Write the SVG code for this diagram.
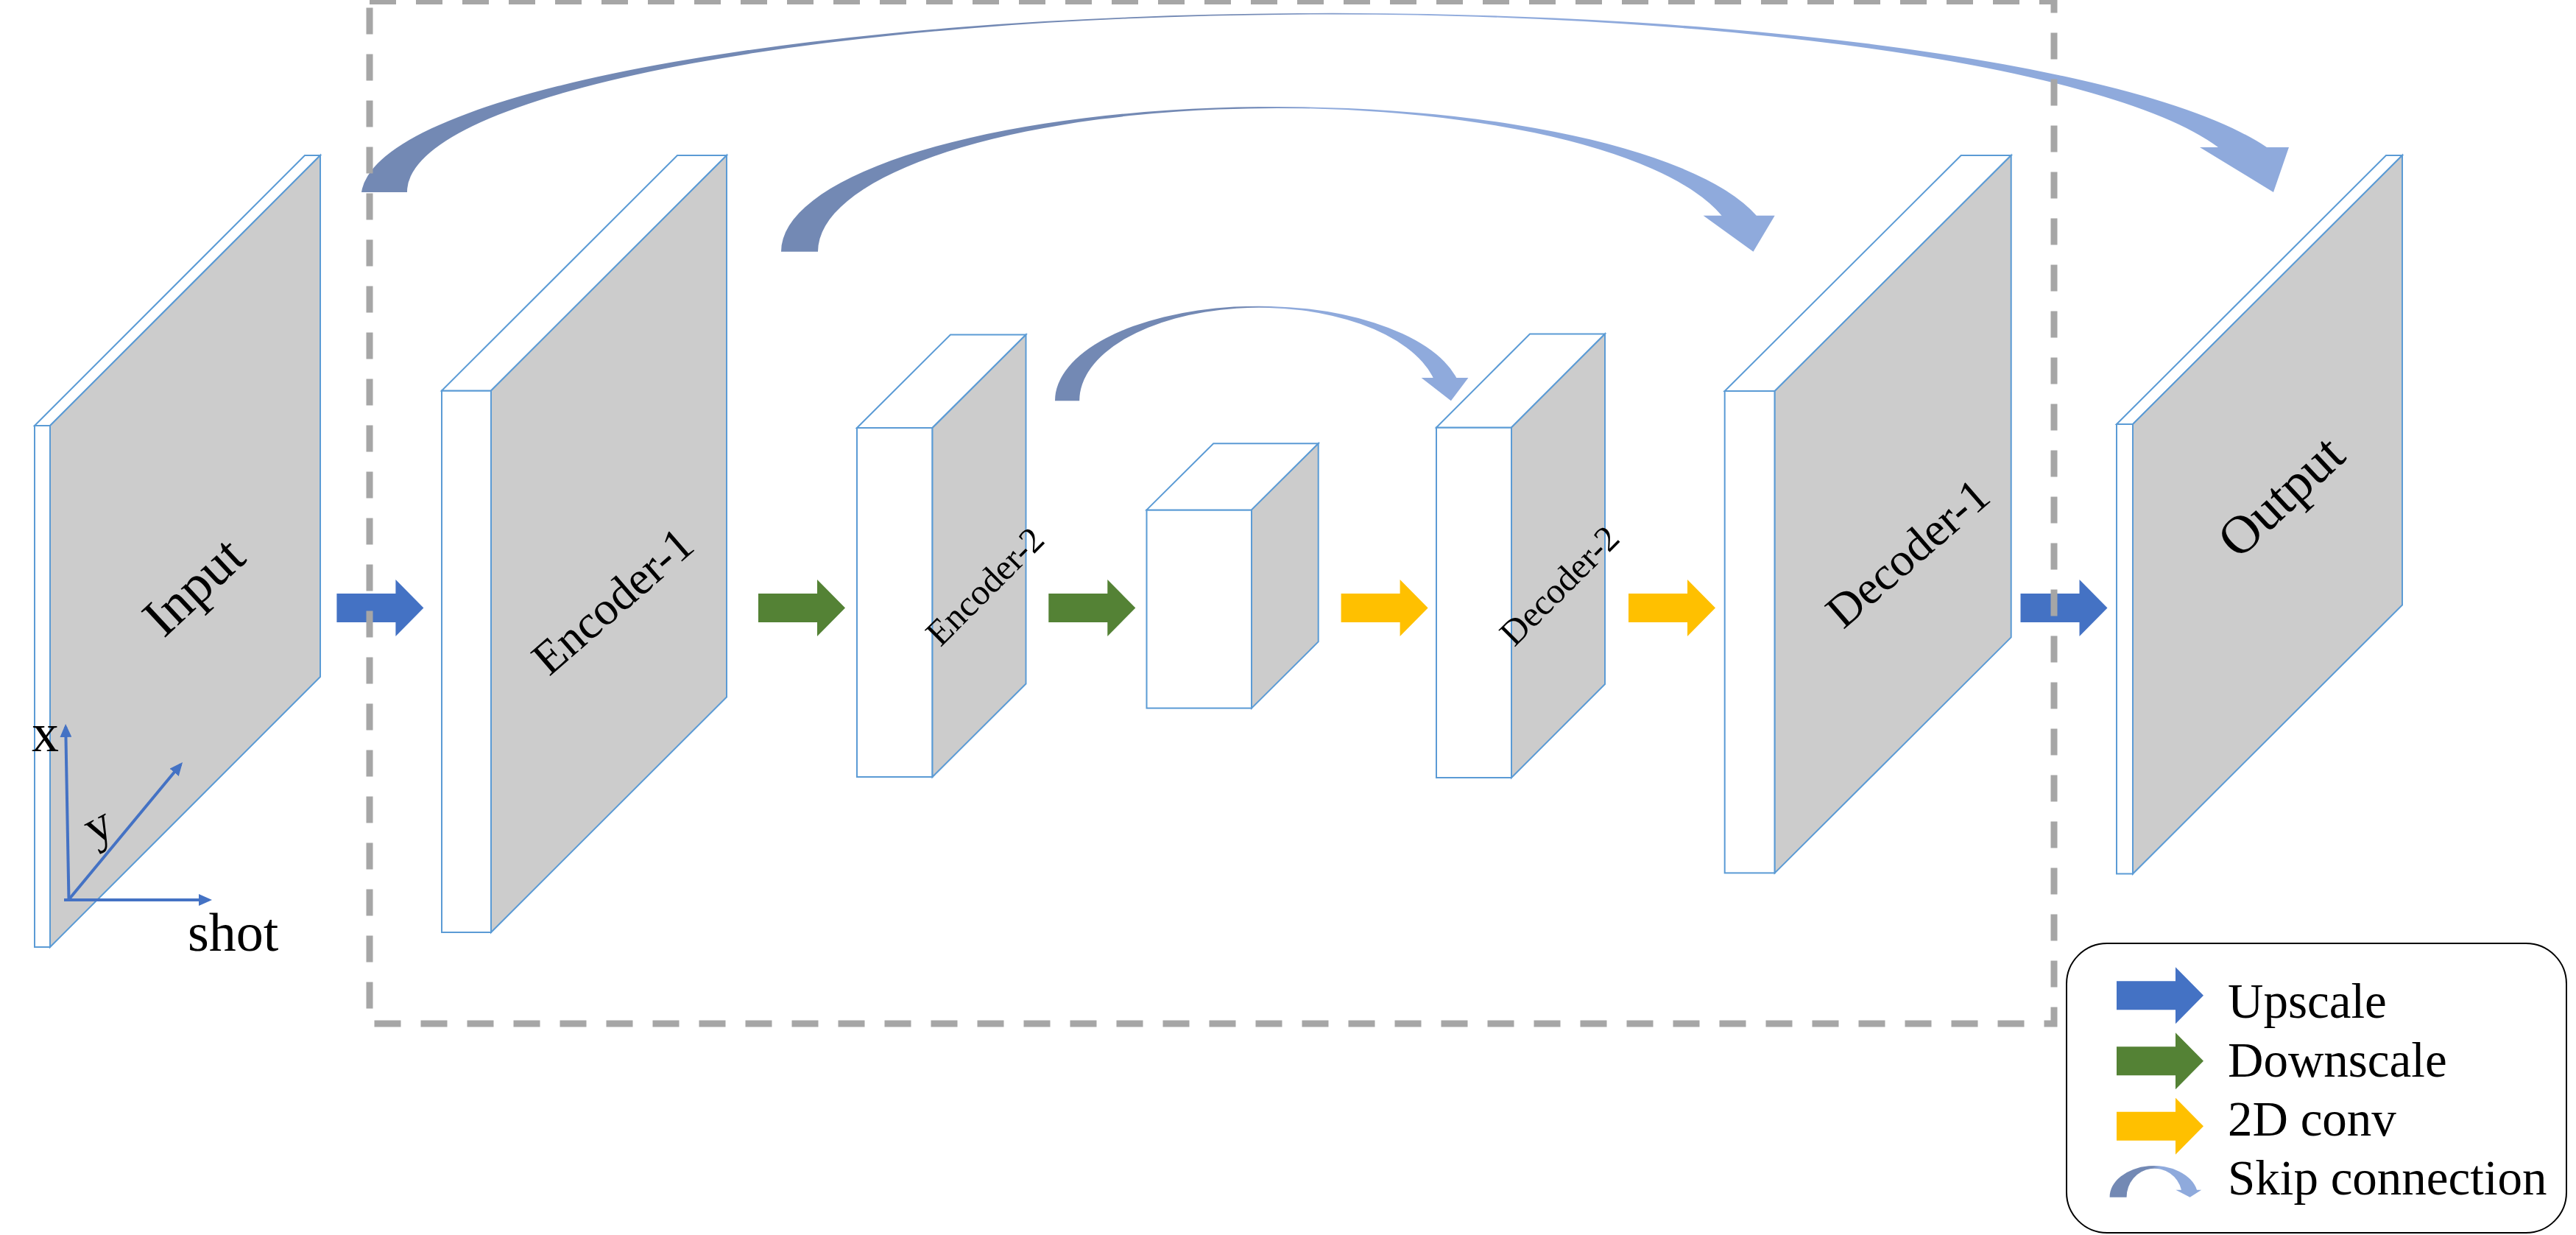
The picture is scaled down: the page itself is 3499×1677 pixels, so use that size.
<svg xmlns="http://www.w3.org/2000/svg" width="3499" height="1677" viewBox="0 0 3499 1677">
<style>
.face{fill:#FFFFFF;stroke:#5B9BD5;stroke-width:2;stroke-linejoin:miter}
.side{fill:#CCCCCC;stroke:#5B9BD5;stroke-width:2;stroke-linejoin:miter}
.lbl{font-family:"Liberation Serif","Times New Roman",serif;fill:#000000;text-anchor:middle;dominant-baseline:central}
.leg{font-family:"Liberation Serif","Times New Roman",serif;fill:#000000;font-size:67px}
.ax{stroke:#4472C4;stroke-width:4;fill:none}
.up{fill:#4472C4}
.down{fill:#548235}
.conv{fill:#FFC000}
.skip{fill:url(#skipg)}
</style>
<defs>
<linearGradient id="skipg" x1="0" y1="0" x2="1" y2="0">
<stop offset="0" stop-color="#7389B4"/>
<stop offset="0.46" stop-color="#7389B4"/>
<stop offset="0.54" stop-color="#8FAADC"/>
<stop offset="1" stop-color="#8FAADC"/>
</linearGradient>
<path id="blk" d="M0,-19.5 H80 V-38.5 L118,0 L80,38.5 V19.5 H0 Z"/>
<marker id="axh" viewBox="0 0 18 16" refX="14" refY="8" markerWidth="18" markerHeight="16" markerUnits="userSpaceOnUse" orient="auto">
<path d="M0,0 L18,8 L0,16 Z" fill="#4472C4"/>
</marker>
</defs>

<g id="connectors">
<use href="#blk" class="up" x="457.4" y="825.5"/>
<use href="#blk" class="down" x="1030" y="825.5"/>
<use href="#blk" class="down" x="1424.3" y="825.5"/>
<use href="#blk" class="conv" x="1821.6" y="825.5"/>
<use href="#blk" class="conv" x="2212" y="825.5"/>
<use href="#blk" class="up" x="2744.5" y="825.5"/>
<path class="skip" d="M491,261 A1319,250 0 0 1 3079,200 L3109,200 L3088,261 L2988,200 L3013,200 A1250,241 0 0 0 553,261 Z"/>
<path class="skip" d="M1061,341.7 A673,196.7 0 0 1 2385.8,292.7 L2410.7,292.7 L2381.5,341.7 L2313.6,292.7 L2338.6,292.7 A623.8,194.7 0 0 0 1111,341.7 Z"/>
<path class="skip" d="M1433,544.2 A276.8,128.6 0 0 1 1978.3,513 L1994.4,513 L1970.9,544.2 L1930.6,513 L1946.7,513 A244,126.2 0 0 0 1466.2,544.2 Z"/>
</g>

<g id="input">
<rect class="face" x="47" y="578" width="21" height="708"/>
<polygon class="face" points="47,578 414,211 435,211 68,578"/>
<polygon class="side" points="68,578 435,211 435,919 68,1286"/>
<text class="lbl" font-size="74" x="262.5" y="796" transform="rotate(-43 262.5 796)">Input</text>
<line class="ax" x1="93.5" y1="1222" x2="89.2" y2="987" marker-end="url(#axh)"/>
<line class="ax" x1="93" y1="1222" x2="245.5" y2="1038" marker-end="url(#axh)"/>
<line class="ax" x1="87" y1="1222" x2="284" y2="1222" marker-end="url(#axh)"/>
<text class="leg" style="font-size:74px" x="43" y="1020">x</text>
<text class="leg" style="font-size:68px" x="0" y="0" transform="translate(128 1148) rotate(-28)">y</text>
<text class="leg" style="font-size:74px" x="255" y="1291">shot</text>
</g>

<g id="encoder1">
<rect class="face" x="600" y="530.5" width="67" height="735.5"/>
<polygon class="face" points="600,530.5 920,211 987,211 667,530.5"/>
<polygon class="side" points="667,530.5 987,211 987,946.5 667,1266"/>
<text class="lbl" font-size="64" x="832" y="816" transform="rotate(-41 832 816)">Encoder-1</text>
</g>

<g id="encoder2">
<rect class="face" x="1164" y="581" width="102.5" height="474"/>
<polygon class="face" points="1164,581 1291,454.5 1393.5,454.5 1266.5,581"/>
<polygon class="side" points="1266.5,581 1393.5,454.5 1393.5,928.5 1266.5,1055"/>
<text class="lbl" font-size="49" x="1337.6" y="796" transform="rotate(-45 1337.6 796)">Encoder-2</text>
</g>

<g id="bottleneck">
<rect class="face" x="1557.5" y="692.4" width="142.5" height="269.2"/>
<polygon class="face" points="1557.5,692.4 1648.2,602.2 1790.7,602.2 1700,692.4"/>
<polygon class="side" points="1700,692.4 1790.7,602.2 1790.7,871.4 1700,961.6"/>
</g>

<g id="decoder2">
<rect class="face" x="1951" y="580.5" width="102" height="475.5"/>
<polygon class="face" points="1951,580.5 2078,453.5 2180,453.5 2053,580.5"/>
<polygon class="side" points="2053,580.5 2180,453.5 2180,929 2053,1056"/>
<text class="lbl" font-size="49" x="2118" y="795" transform="rotate(-45 2118 795)">Decoder-2</text>
</g>

<g id="decoder1">
<rect class="face" x="2342.7" y="531" width="68" height="654.4"/>
<polygon class="face" points="2342.7,531 2663.7,211 2731.7,211 2410.7,531"/>
<polygon class="side" points="2410.7,531 2731.7,211 2731.7,865.4 2410.7,1185.4"/>
<text class="lbl" font-size="64" x="2591" y="751" transform="rotate(-41 2591 751)">Decoder-1</text>
</g>

<g id="output">
<rect class="face" x="2875" y="576" width="22" height="610.5"/>
<polygon class="face" points="2875,576 3241,211 3263,211 2897,576"/>
<polygon class="side" points="2897,576 3263,211 3263,821.5 2897,1186.5"/>
<text class="lbl" font-size="73" x="3098" y="674" transform="rotate(-43 3098 674)">Output</text>
</g>

<g id="frame">
<rect x="502" y="1.5" width="2288" height="1388.5" fill="none" stroke="#A6A6A6" stroke-width="9" stroke-dasharray="36 27"/>
</g>

<g id="legend">
<rect x="2807" y="1281" width="679" height="393" rx="55" ry="55" fill="#FFFFFF" stroke="#000000" stroke-width="2"/>
<use href="#blk" class="up" x="2875" y="1351.7"/>
<use href="#blk" class="down" x="2875" y="1440.7"/>
<use href="#blk" class="conv" x="2875" y="1529.3"/>
<path class="skip" d="M2865.6,1625.7 A60,42.4 0 0 1 2984,1615.7 L2990.3,1615.7 L2974.6,1625.7 L2955.4,1615.7 L2963,1615.7 A37.8,38.7 0 0 0 2888.6,1625.7 Z"/>
<text class="leg" x="3026" y="1381.7">Upscale</text>
<text class="leg" x="3026" y="1461.7">Downscale</text>
<text class="leg" x="3026" y="1541.7">2D conv</text>
<text class="leg" x="3026" y="1621.7">Skip connection</text>
</g>
</svg>
